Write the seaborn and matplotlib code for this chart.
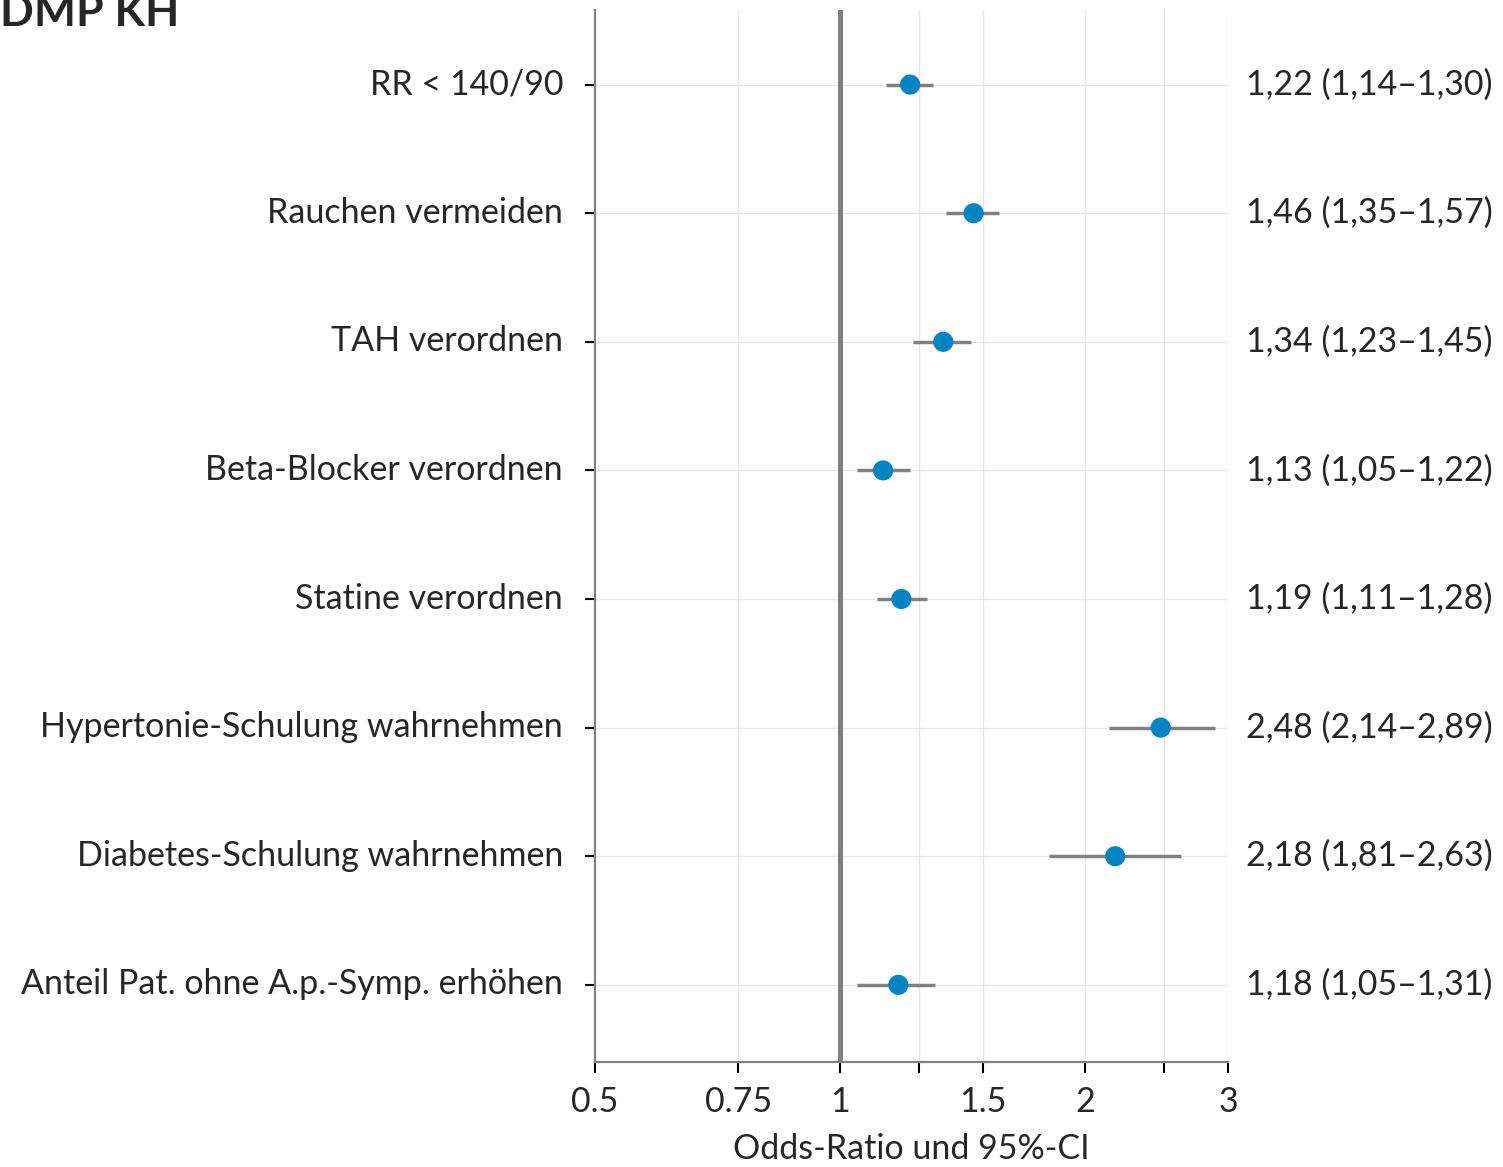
import matplotlib
matplotlib.use("Agg")
import matplotlib.pyplot as plt
import matplotlib.ticker as mticker
import matplotlib.transforms as mtransforms
import seaborn as sns
import pandas as pd

categories = [
    "RR < 140/90",
    "Rauchen vermeiden",
    "TAH verordnen",
    "Beta-Blocker verordnen",
    "Statine verordnen",
    "Hypertonie-Schulung wahrnehmen",
    "Diabetes-Schulung wahrnehmen",
    "Anteil Pat. ohne A.p.-Symp. erhöhen",
]
odds_ratio = [1.22, 1.46, 1.34, 1.13, 1.19, 2.48, 2.18, 1.18]
ci_low = [1.14, 1.35, 1.23, 1.05, 1.11, 2.14, 1.81, 1.05]
ci_high = [1.30, 1.57, 1.45, 1.22, 1.28, 2.89, 2.63, 1.31]
x_ticks = [0.5, 0.75, 1, 1.25, 1.5, 2, 2.5, 3]
x_tick_labels = ["0.5", "0.75", "1", "", "1.5", "2", "", "3"]

df = pd.DataFrame({"cat": categories, "or": odds_ratio, "lo": ci_low, "hi": ci_high})
df["pos"] = range(len(df))

sns.set_theme(style="white")
plt.rcParams["font.family"] = ["Lato", "DejaVu Sans"]

fig = plt.figure(figsize=(15.03, 11.67), dpi=100)
ax = fig.add_axes([595 / 1503, 1 - 1062 / 1167, 633 / 1503, 1052 / 1167])

gray = "#808080"
fs = 24.5
ax.set_xscale("log")
ax.set_xlim(0.5, 3)
ax.set_ylim(7.6, -0.58)

for x in x_ticks[1:]:
    if x != 1:
        ax.axvline(x, color="#e6e6e6", lw=1, zorder=0)
for p in df["pos"]:
    ax.axhline(p, color="#e6e6e6", lw=1, zorder=0)
ax.axvline(1, color=gray, lw=3.6, zorder=1)

ax.hlines(df["pos"], df["lo"], df["hi"], color=gray, lw=2.5, zorder=2)
sns.scatterplot(data=df, x="or", y="pos", s=210, color="#0084c4",
                edgecolor="none", zorder=3, ax=ax, legend=False)

ax.xaxis.set_major_locator(mticker.FixedLocator(x_ticks))
ax.xaxis.set_major_formatter(mticker.FixedFormatter(x_tick_labels))
ax.xaxis.set_minor_locator(mticker.NullLocator())
ax.set_yticks(df["pos"])
ax.set_yticklabels(df["cat"])

ax.tick_params(axis="x", direction="out", length=8, width=1.5, color="black",
               labelsize=fs, pad=9, bottom=True)
ax.tick_params(axis="y", direction="out", length=7, width=1.5, color="black",
               labelsize=fs, pad=16, left=True)

# lift y labels slightly above their tick, as in the original
shift = mtransforms.ScaledTranslation(0, 2.5 / 72, fig.dpi_scale_trans)
for lab in ax.get_yticklabels():
    lab.set_transform(lab.get_transform() + shift)

for side in ["top", "right"]:
    ax.spines[side].set_visible(False)
for side in ["left", "bottom"]:
    ax.spines[side].set_color(gray)
    ax.spines[side].set_linewidth(1.6)

ax.set_xlabel("Odds-Ratio und 95%-CI", fontsize=fs, labelpad=11)
ax.set_ylabel("")

for p, o, l, h in zip(df["pos"], odds_ratio, ci_low, ci_high):
    txt = f"{o:.2f} ({l:.2f}–{h:.2f})".replace(".", ",")
    ax.text(1.029, p, txt, transform=ax.get_yaxis_transform(), ha="left",
            va="center", fontsize=fs, clip_on=False)

fig.text(0.0, 1.006, "DMP KH", fontsize=32, fontweight="bold", ha="left", va="top")

fig.savefig("out.png", dpi=100)
